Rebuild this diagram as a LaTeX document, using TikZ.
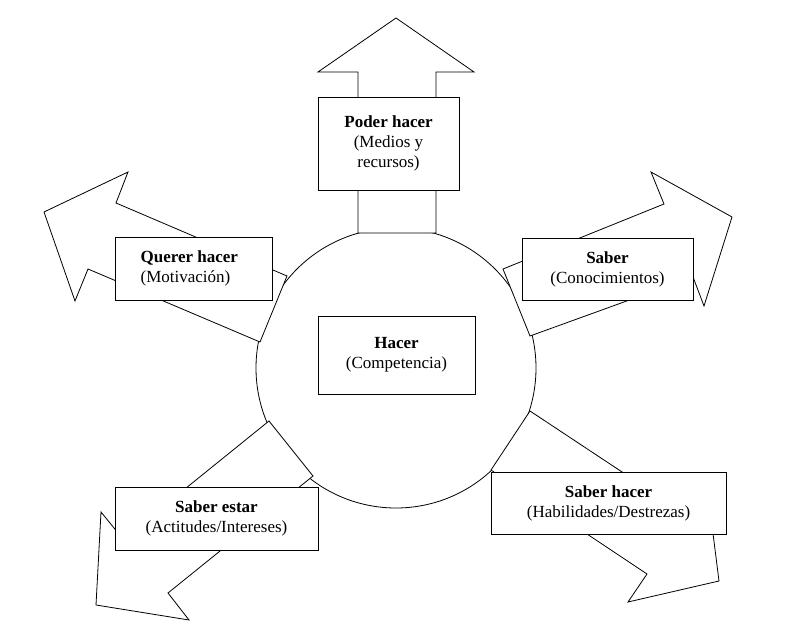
\documentclass[tikz,border=0pt]{standalone}
\usepackage{fontspec}
\setmainfont{Liberation Serif}
\begin{document}
\begin{tikzpicture}[x=1pt,y=-1pt,
  arrowshape/.style={draw=black,fill=white,line width=0.8pt,line join=miter},
  lbl/.style={draw=black,fill=white,line width=0.8pt,inner sep=0pt,align=center,font=\fontsize{17}{20}\selectfont}]
\useasboundingbox (0,0) rectangle (801,628);
\node[draw,circle,line width=0.8pt,minimum size=280pt,inner sep=0pt] (c) at (396,368) {};
% arrows
\filldraw[arrowshape] (358,233) -- (358,72) -- (318,72) -- (396,18) -- (474,72) -- (436,72) -- (436,233) -- cycle;
\filldraw[arrowshape] (260,342) -- (88,269) -- (75,301) -- (44,212) -- (128,172) -- (116,203) -- (287,276) -- cycle;
\filldraw[arrowshape] (503,269) -- (664,204) -- (651,172) -- (732,217) -- (704,306) -- (693,277) -- (530,336) -- cycle;
\filldraw[arrowshape] (269,421) -- (123,539) -- (101,512) -- (96,605) -- (189,620) -- (168,593) -- (313,476) -- cycle;
\filldraw[arrowshape] (530,411) -- (687,515) -- (707,486) -- (719,581) -- (628,602) -- (647,574) -- (491,470) -- cycle;
% boxes
\node[lbl,minimum width=141pt,minimum height=93pt] (poder) at (388.5,143.5) {\textbf{Poder hacer}\\(Medios y\\recursos)};
\node[lbl,minimum width=157pt,minimum height=78pt] (hacer) at (396.5,355) {\textbf{Hacer}\\(Competencia)};
\node[lbl,minimum width=157pt,minimum height=63pt,align=left] (querer) at (193.5,268.5) {\textbf{Querer hacer}\\(Motivación)\hspace*{16pt}};
\node[lbl,minimum width=171pt,minimum height=62pt] (saber) at (607.5,269) {\textbf{Saber}\\(Conocimientos)};
\node[lbl,minimum width=203pt,minimum height=63pt] (estar) at (216.5,518.5) {\textbf{Saber estar}\\(Actitudes/Intereses)};
\node[lbl,minimum width=235pt,minimum height=62pt] (shacer) at (608.5,503) {\textbf{Saber hacer}\\(Habilidades/Destrezas)};
\end{tikzpicture}
\end{document}
